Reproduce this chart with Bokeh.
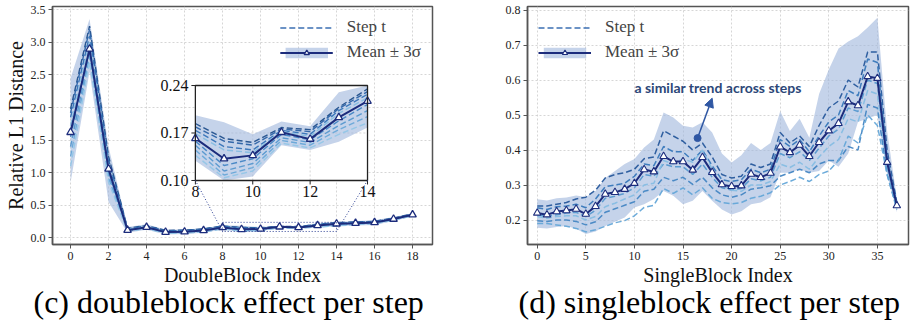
import numpy as np
from bokeh.plotting import figure
from bokeh.layouts import row
from bokeh.models import (Range1d, Legend, LegendItem, Title, Arrow, NormalHead, FixedTicker,
                          PrintfTickFormatter)
from bokeh.core.properties import value
from bokeh.embed import file_html
from bokeh.resources import INLINE

# ---------------- data: (c) doubleblock ----------------
dbl_idx = list(range(19))
dbl_mean = [1.62, 2.90, 1.06, 0.12, 0.165, 0.09, 0.095, 0.115, 0.162, 0.132, 0.137,
            0.171, 0.161, 0.193, 0.217, 0.227, 0.238, 0.29, 0.356]
dbl_lower = [0.85, 2.55, 0.55, 0.08, 0.125, 0.055, 0.06, 0.08, 0.129, 0.092, 0.106,
             0.152, 0.145, 0.157, 0.178, 0.19, 0.20, 0.26, 0.33]
dbl_upper = [2.45, 3.36, 1.40, 0.17, 0.21, 0.13, 0.13, 0.15, 0.196, 0.186, 0.168,
             0.187, 0.180, 0.230, 0.245, 0.26, 0.27, 0.32, 0.38]
dbl_steps = [
    [1.98, 3.25, 1.25, 0.15, 0.19, 0.115, 0.12, 0.14, 0.184, 0.162, 0.156, 0.178, 0.175, 0.208, 0.235, 0.245, 0.255, 0.305, 0.37],
    [1.92, 3.20, 1.20, 0.14, 0.185, 0.11, 0.115, 0.135, 0.179, 0.158, 0.152, 0.176, 0.172, 0.206, 0.231, 0.24, 0.25, 0.30, 0.365],
    [1.85, 3.10, 1.15, 0.135, 0.18, 0.10, 0.105, 0.125, 0.174, 0.150, 0.145, 0.174, 0.168, 0.203, 0.227, 0.235, 0.245, 0.295, 0.36],
    [1.72, 3.00, 1.10, 0.13, 0.17, 0.095, 0.10, 0.12, 0.169, 0.145, 0.141, 0.172, 0.165, 0.199, 0.222, 0.232, 0.242, 0.292, 0.358],
    [1.55, 2.90, 1.02, 0.12, 0.16, 0.085, 0.09, 0.11, 0.158, 0.122, 0.132, 0.168, 0.160, 0.188, 0.212, 0.225, 0.235, 0.287, 0.354],
    [1.40, 2.85, 0.97, 0.11, 0.155, 0.08, 0.085, 0.105, 0.152, 0.114, 0.125, 0.163, 0.156, 0.181, 0.203, 0.218, 0.23, 0.282, 0.35],
    [1.25, 2.78, 0.92, 0.105, 0.15, 0.075, 0.08, 0.10, 0.145, 0.108, 0.119, 0.159, 0.152, 0.175, 0.194, 0.212, 0.225, 0.278, 0.346],
    [1.10, 2.70, 0.86, 0.10, 0.145, 0.07, 0.075, 0.095, 0.137, 0.104, 0.114, 0.155, 0.148, 0.168, 0.185, 0.205, 0.22, 0.272, 0.342],
]
dbl_colors = ["#22508c", "#2b62a6", "#3674b8", "#86bde2", "#4385c4", "#5597ce", "#69a8d8", "#94c6e7"]
dbl_xticks = [0, 2, 4, 6, 8, 10, 12, 14, 16, 18]
dbl_yticks = [0.0, 0.5, 1.0, 1.5, 2.0, 2.5, 3.0, 3.5]
inset_xticks = [8, 10, 12, 14]
inset_yticks = [0.10, 0.17, 0.24]
inset_ytick_labels = ["0.10", "0.17", "0.24"]

# ---------------- data: (d) singleblock ----------------
sgl_idx = list(range(38))
sgl_mean = [0.22, 0.215, 0.224, 0.227, 0.231, 0.217, 0.239, 0.274, 0.279, 0.288, 0.305, 0.344,
            0.338, 0.382, 0.367, 0.367, 0.343, 0.379, 0.336, 0.301, 0.296, 0.298, 0.331, 0.322,
            0.334, 0.409, 0.393, 0.414, 0.382, 0.422, 0.455, 0.476, 0.538, 0.527, 0.61, 0.605,
            0.365, 0.241]
sgl_upper = [0.259, 0.256, 0.262, 0.264, 0.27, 0.266, 0.283, 0.32, 0.34, 0.36, 0.374, 0.407,
             0.43, 0.507, 0.493, 0.469, 0.464, 0.479, 0.45, 0.39, 0.364, 0.385, 0.42, 0.40,
             0.42, 0.511, 0.454, 0.489, 0.435, 0.56, 0.63, 0.69, 0.71, 0.725, 0.75, 0.778,
             0.454, 0.262]
sgl_lower = [0.178, 0.176, 0.18, 0.183, 0.175, 0.16, 0.167, 0.183, 0.195, 0.207, 0.236, 0.245,
             0.26, 0.283, 0.269, 0.245, 0.255, 0.283, 0.255, 0.23, 0.216, 0.225, 0.245, 0.25,
             0.265, 0.335, 0.335, 0.345, 0.335, 0.34, 0.37, 0.352, 0.39, 0.48, 0.49, 0.50,
             0.33, 0.222]
sgl_steps = [
    [0.24, 0.24, 0.245, 0.25, 0.26, 0.265, 0.285, 0.32, 0.33, 0.335, 0.345, 0.375, 0.38, 0.455, 0.44, 0.425, 0.40, 0.42, 0.38, 0.33, 0.32, 0.325, 0.36, 0.35, 0.36, 0.45, 0.42, 0.44, 0.41, 0.47, 0.52, 0.54, 0.60, 0.58, 0.68, 0.68, 0.40, 0.25],
    [0.235, 0.23, 0.238, 0.24, 0.245, 0.235, 0.26, 0.295, 0.30, 0.305, 0.325, 0.36, 0.355, 0.41, 0.395, 0.395, 0.37, 0.40, 0.355, 0.315, 0.31, 0.315, 0.345, 0.335, 0.345, 0.43, 0.41, 0.43, 0.395, 0.44, 0.48, 0.50, 0.57, 0.555, 0.66, 0.65, 0.38, 0.245],
    [0.215, 0.21, 0.215, 0.22, 0.222, 0.21, 0.228, 0.262, 0.268, 0.276, 0.292, 0.33, 0.325, 0.36, 0.352, 0.352, 0.33, 0.36, 0.322, 0.292, 0.286, 0.29, 0.318, 0.312, 0.322, 0.39, 0.378, 0.395, 0.37, 0.405, 0.44, 0.46, 0.52, 0.51, 0.60, 0.59, 0.36, 0.24],
    [0.21, 0.205, 0.21, 0.212, 0.212, 0.20, 0.21, 0.238, 0.248, 0.26, 0.272, 0.30, 0.305, 0.37, 0.36, 0.375, 0.365, 0.40, 0.345, 0.30, 0.285, 0.282, 0.30, 0.30, 0.31, 0.36, 0.35, 0.365, 0.345, 0.38, 0.41, 0.43, 0.49, 0.48, 0.57, 0.56, 0.35, 0.24],
    [0.198, 0.196, 0.20, 0.20, 0.196, 0.186, 0.195, 0.222, 0.232, 0.242, 0.252, 0.282, 0.288, 0.322, 0.312, 0.322, 0.302, 0.322, 0.292, 0.272, 0.265, 0.272, 0.288, 0.292, 0.298, 0.325, 0.335, 0.345, 0.335, 0.36, 0.37, 0.37, 0.41, 0.40, 0.53, 0.52, 0.33, 0.235],
    [0.19, 0.19, 0.186, 0.182, 0.176, 0.166, 0.172, 0.182, 0.192, 0.198, 0.212, 0.236, 0.242, 0.29, 0.276, 0.292, 0.272, 0.292, 0.262, 0.25, 0.246, 0.25, 0.262, 0.268, 0.278, 0.30, 0.31, 0.322, 0.31, 0.33, 0.34, 0.37, 0.44, 0.42, 0.50, 0.47, 0.33, 0.23],
]
sgl_colors = ["#27589c", "#3878bb", "#5598cf", "#86bde3", "#4486c3", "#64a6d8"]
sgl_xticks = [0, 5, 10, 15, 20, 25, 30, 35]
sgl_yticks = [0.2, 0.3, 0.4, 0.5, 0.6, 0.7, 0.8]

# ---------------- styles ----------------
SERIF = "Liberation Serif"
NAVY = "#1c2c7c"
BAND = "#9fb5dc"
FRAME = "#555555"
MSIZE = 7.5
BOTTOM = 79   # space under the frame for ticks, axis label and caption


def make_fig(xr, yr, left, right):
    p = figure(width=458, height=323, x_range=Range1d(*xr), y_range=Range1d(*yr),
               output_backend="svg", toolbar_location=None, title=None,
               min_border_left=left, min_border_right=right,
               min_border_top=6, min_border_bottom=BOTTOM)
    p.outline_line_color = FRAME
    p.outline_line_width = 1.5
    for ax in (p.xaxis[0], p.yaxis[0]):
        ax.axis_line_color = FRAME
        ax.axis_line_width = 1.5
        ax.major_tick_line_color = FRAME
        ax.major_tick_out = 4
        ax.major_tick_in = 0
        ax.minor_tick_line_color = None
        ax.major_label_text_font = SERIF
        ax.major_label_text_font_size = "12px"
        ax.major_label_text_color = "#222222"
        ax.major_label_standoff = 3
        ax.axis_label_text_font = SERIF
        ax.axis_label_text_font_size = "20px"
        ax.axis_label_text_font_style = "normal"
        ax.axis_label_text_color = "#111111"
        ax.axis_label_standoff = 1
    p.grid.grid_line_color = "#cccccc"
    p.grid.grid_line_dash = "2 2"
    p.grid.grid_line_width = 0.8
    return p


def add_legend(p, band, line, mark, location, color):
    dummy = p.line([0], [np.nan], line_color=color, line_dash="6 3", line_width=1.6)
    leg = Legend(items=[LegendItem(label="Step t", renderers=[dummy]),
                        LegendItem(label="Mean ± 3σ", renderers=[band, line, mark])],
                 location=location)
    leg.label_text_font = SERIF
    leg.label_text_font_size = "17px"
    leg.border_line_color = None
    leg.background_fill_alpha = 0
    leg.glyph_width = 53
    leg.glyph_height = 13
    leg.label_standoff = 14
    leg.spacing = 5
    leg.padding = 4
    leg.margin = 11
    p.add_layout(leg)


def add_caption(p, text, offset):
    p.add_layout(Title(text=text, text_font=SERIF, text_font_size="32px",
                       text_font_style="normal", text_color="#000000",
                       align="left", offset=offset, standoff=-10,
                       vertical_align="top"), "below")


# ================= (c) doubleblock =================
XR1 = (-0.95, 19.05)
YR1 = (-0.1, 3.55)
p1 = make_fig(XR1, YR1, 52, 26)
p1.xaxis.axis_label = "DoubleBlock Index"
p1.yaxis.axis_label = "Relative L1 Distance"
p1.xaxis.ticker = FixedTicker(ticks=dbl_xticks)
p1.yaxis.ticker = FixedTicker(ticks=dbl_yticks)
p1.yaxis.formatter = PrintfTickFormatter(format="%.1f")

band1 = p1.varea(x=dbl_idx, y1=dbl_lower, y2=dbl_upper, fill_color=BAND, fill_alpha=0.6)
for s, c in zip(dbl_steps, dbl_colors):
    p1.line(dbl_idx, s, line_color=c, line_dash="6 3", line_width=1.4, line_alpha=0.95)
mline1 = p1.line(dbl_idx, dbl_mean, line_color=NAVY, line_width=2)
mmark1 = p1.scatter(dbl_idx, dbl_mean, marker="triangle", size=MSIZE, fill_color="white",
                    line_color=NAVY, line_width=1.3)

# ---- inset (zoom of indices 8..14) drawn through extra ranges ----
IX = (8, 14)
IY = (0.10, 0.24)
fx0, fx1 = 0.376, 0.829      # inset placement as fractions of the frame
fy0, fy1 = 0.269, 0.668
sx = (IX[1] - IX[0]) / (fx1 - fx0)
sy = (IY[1] - IY[0]) / (fy1 - fy0)
p1.extra_x_ranges = {"ix": Range1d(IX[0] - fx0 * sx, IX[0] - fx0 * sx + sx)}
p1.extra_y_ranges = {"iy": Range1d(IY[0] - fy0 * sy, IY[0] - fy0 * sy + sy)}
kw = dict(x_range_name="ix", y_range_name="iy")

p1.quad(left=[IX[0]], right=[IX[1]], bottom=[IY[0]], top=[IY[1]], fill_color="white",
        line_color=None, **kw)
gx = [t for t in inset_xticks if IX[0] < t < IX[1]]
p1.segment(x0=gx, y0=[IY[0]] * len(gx), x1=gx, y1=[IY[1]] * len(gx),
           line_color="#cccccc", line_dash="2 2", line_width=0.8, **kw)
p1.segment(x0=[IX[0]], y0=[0.17], x1=[IX[1]], y1=[0.17],
           line_color="#cccccc", line_dash="2 2", line_width=0.8, **kw)

sel = slice(IX[0], IX[1] + 1)
ins_x = dbl_idx[sel]
p1.varea(x=ins_x, y1=np.clip(dbl_lower[sel], *IY), y2=np.clip(dbl_upper[sel], *IY),
         fill_color=BAND, fill_alpha=0.6, **kw)
for s, c in zip(dbl_steps, dbl_colors):
    p1.line(ins_x, s[sel], line_color=c, line_dash="6 3", line_width=1.4, line_alpha=0.95, **kw)
p1.line(ins_x, dbl_mean[sel], line_color=NAVY, line_width=2, **kw)
p1.scatter(ins_x, dbl_mean[sel], marker="triangle", size=MSIZE, fill_color="white",
           line_color=NAVY, line_width=1.3, **kw)
p1.quad(left=[IX[0]], right=[IX[1]], bottom=[IY[0]], top=[IY[1]], fill_color=None,
        line_color="#222222", line_width=1.3, **kw)

# inset ticks and labels
px_x = sx / 380.0   # data units per pixel (approx frame width)
px_y = sy / 238.0
p1.segment(x0=[IX[0]] * 3, y0=inset_yticks, x1=[IX[0] - 4 * px_x] * 3, y1=inset_yticks,
           line_color="#222222", line_width=1, **kw)
p1.segment(x0=inset_xticks, y0=[IY[0]] * 4, x1=inset_xticks, y1=[IY[0] - 4 * px_y] * 4,
           line_color="#222222", line_width=1, **kw)
p1.text(x=[IX[0]] * 3, y=inset_yticks, text=inset_ytick_labels, x_offset=-7,
        text_align="right", text_baseline="middle", text_font=value(SERIF),
        text_font_size="16px", text_color="#111111", **kw)
p1.text(x=inset_xticks, y=[IY[0]] * 4, text=[str(t) for t in inset_xticks], y_offset=6,
        text_align="center", text_baseline="top", text_font=value(SERIF),
        text_font_size="16px", text_color="#111111", **kw)

# zoom rectangle in main coords and connectors
DOT = "#2b3f94"
p1.quad(left=[IX[0]], right=[IX[1]], bottom=[IY[0]], top=[IY[1]], fill_color=None,
        line_color=DOT, line_dash="1 2", line_width=1)
mx = lambda f: XR1[0] + f * (XR1[1] - XR1[0])
my = lambda f: YR1[0] + f * (YR1[1] - YR1[0])
p1.segment(x0=[mx(fx0), mx(fx1)], y0=[my(fy0), my(fy0)], x1=[IX[0], IX[1]], y1=[IY[0], IY[0]],
           line_color=DOT, line_dash="1 2", line_width=1)

add_legend(p1, band1, mline1, mmark1, "top_right", "#3b6fb3")
add_caption(p1, "(c) doubleblock effect per step", -19)

# ================= (d) singleblock =================
XR2 = (-1.0, 38.2)
YR2 = (0.13, 0.81)
p2 = make_fig(XR2, YR2, 69, 8)
p2.xaxis.axis_label = "SingleBlock Index"
p2.xaxis.ticker = FixedTicker(ticks=sgl_xticks)
p2.yaxis.ticker = FixedTicker(ticks=sgl_yticks)
p2.yaxis.formatter = PrintfTickFormatter(format="%.1f")

band2 = p2.varea(x=sgl_idx, y1=sgl_lower, y2=sgl_upper, fill_color=BAND, fill_alpha=0.6)
for s, c in zip(sgl_steps, sgl_colors):
    p2.line(sgl_idx, s, line_color=c, line_dash="6 3", line_width=1.5, line_alpha=0.95)
mline2 = p2.line(sgl_idx, sgl_mean, line_color=NAVY, line_width=2)
mmark2 = p2.scatter(sgl_idx, sgl_mean, marker="triangle", size=MSIZE, fill_color="white",
                    line_color=NAVY, line_width=1.1)

# annotation
p2.text(x=[18.6], y=[0.58], text=["a similar trend across steps"], text_font=value("Lato"),
        text_font_style="bold", text_font_size="14px", text_color="#2c4778",
        text_align="center", text_baseline="middle")
ARW = "#2f57a3"
p2.add_layout(Arrow(end=NormalHead(size=9, fill_color=ARW, line_color=ARW),
                    x_start=16.5, y_start=0.434, x_end=18.0, y_end=0.548,
                    line_color=ARW, line_width=1.5))
p2.scatter([16.5], [0.434], size=7, color=ARW)

add_legend(p2, band2, mline2, mmark2, "top_left", "#3b6fb3")
add_caption(p2, "(d) singleblock effect per step", -9)

layout = row(p1, p2)
open("out.html", "w").write(file_html(layout, INLINE))
